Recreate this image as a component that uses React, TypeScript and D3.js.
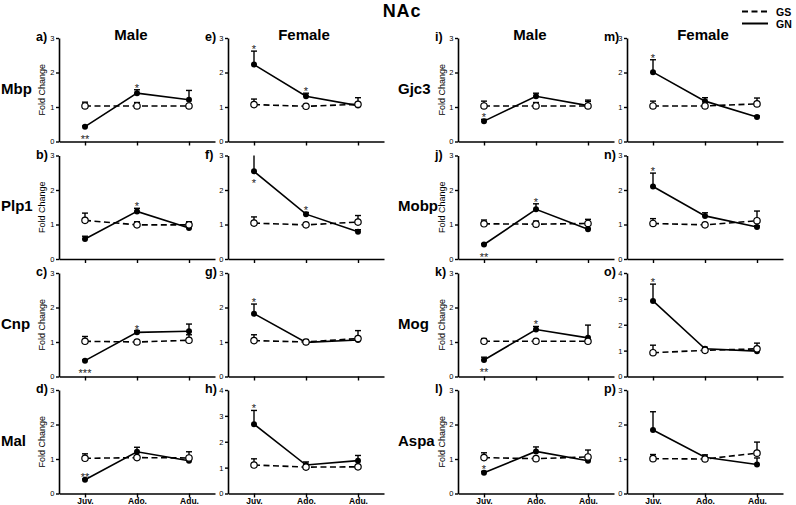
import React, { useEffect, useRef } from 'react';
import * as d3 from 'd3';

// categories
const ages = ['Juv.', 'Ado.', 'Adu.'];
const sexes = ['Male', 'Female'];
const genesLeft = ['Mbp', 'Plp1', 'Cnp', 'Mal'];
const genesRight = ['Gjc3', 'Mobp', 'Mog', 'Aspa'];
const panelLetters = ['a)', 'b)', 'c)', 'd)', 'e)', 'f)', 'g)', 'h)', 'i)', 'j)', 'k)', 'l)', 'm)', 'n)', 'o)', 'p)'];
const yMax = [3, 3, 3, 3, 3, 3, 3, 4, 3, 3, 3, 3, 3, 3, 4, 3];

// GS (dashed, open circles)
const gsMean = [
  [1.03, 1.03, 1.03], [1.12, 0.99, 0.99], [1.02, 1.0, 1.05], [1.02, 1.04, 1.03],
  [1.07, 1.02, 1.08], [1.04, 0.99, 1.07], [1.04, 1.0, 1.1], [1.1, 1.02, 1.03],
  [1.03, 1.03, 1.03], [1.02, 1.01, 1.03], [1.02, 1.02, 1.02], [1.04, 1.01, 1.06],
  [1.03, 1.03, 1.09], [1.03, 0.99, 1.11], [0.92, 1.01, 1.07], [1.01, 1.0, 1.17],
];
const gsErr = [
  [0.11, 0.1, 0.02], [0.21, 0.09, 0.09], [0.14, 0.02, 0.16], [0.13, 0.02, 0.18],
  [0.16, 0.02, 0.19], [0.18, 0.02, 0.19], [0.17, 0.07, 0.23], [0.24, 0.02, 0.02],
  [0.14, 0.1, 0.17], [0.11, 0.09, 0.12], [0.08, 0.02, 0.02], [0.14, 0.02, 0.2],
  [0.14, 0.03, 0.17], [0.14, 0.02, 0.28], [0.29, 0.02, 0.22], [0.12, 0.02, 0.32],
];

// GN (solid, filled circles)
const gnMean = [
  [0.43, 1.4, 1.21], [0.58, 1.38, 0.9], [0.46, 1.28, 1.31], [0.4, 1.21, 0.95],
  [2.23, 1.31, 1.04], [2.54, 1.3, 0.79], [1.82, 0.99, 1.06], [2.68, 1.1, 1.27],
  [0.59, 1.31, 1.04], [0.42, 1.44, 0.86], [0.48, 1.36, 1.12], [0.6, 1.22, 0.95],
  [2.01, 1.17, 0.71], [2.1, 1.25, 0.93], [2.92, 1.07, 0.98], [1.84, 1.05, 0.84],
];
const gnErr = [
  [0.02, 0.1, 0.27], [0.08, 0.09, 0.05], [0.02, 0.05, 0.21], [0.02, 0.13, 0.02],
  [0.39, 0.09, 0.05], [0.48, 0.05, 0.06], [0.28, 0.05, 0.05], [0.53, 0.12, 0.2],
  [0.05, 0.09, 0.12], [0.02, 0.16, 0.03], [0.08, 0.09, 0.37], [0.04, 0.13, 0.02],
  [0.36, 0.1, 0.03], [0.39, 0.09, 0.03], [0.65, 0.06, 0.03], [0.53, 0.07, 0.19],
];

// significance marks on GN points
const stars = [
  ['**', '*', ''], ['', '*', ''], ['***', '*', ''], ['**', '', ''],
  ['*', '*', ''], ['*', '*', ''], ['*', '', ''], ['*', '', ''],
  ['*', '', ''], ['**', '*', ''], ['**', '*', ''], ['*', '', ''],
  ['*', '', ''], ['*', '', ''], ['*', '', ''], ['', '', ''],
];
const starSide = [
  ['down', 'up', ''], ['', 'up', ''], ['down', 'up', ''], ['up', '', ''],
  ['up', 'up', ''], ['down', 'up', ''], ['up', '', ''], ['up', '', ''],
  ['up', '', ''], ['down', 'up', ''], ['down', 'up', ''], ['up', '', ''],
  ['up', '', ''], ['up', '', ''], ['up', '', ''], ['', '', ''],
];

const FONT = '"Liberation Sans", Arial, Helvetica, sans-serif';

export default function App() {
  const svgRef = useRef<SVGSVGElement>(null);

  useEffect(() => {
    if (!svgRef.current) return;
    const svg = d3.select(svgRef.current);
    svg.selectAll('*').remove();
    svg.attr('font-family', FONT);

    const colX = [59, 228, 458, 627];
    const rowTop = [38, 155.5, 273, 390];
    const pw = 156;
    const ph = 103.5;

    // title
    svg.append('text').attr('x', 402).attr('y', 17).attr('text-anchor', 'middle')
      .attr('font-size', 18).attr('font-weight', 'bold').attr('letter-spacing', 0.8).text('NAc');

    // legend
    const leg = svg.append('g');
    leg.append('line').attr('x1', 742).attr('x2', 768).attr('y1', 11.5).attr('y2', 11.5)
      .attr('stroke', '#000').attr('stroke-width', 2).attr('stroke-dasharray', '6,3.5');
    leg.append('line').attr('x1', 742).attr('x2', 768).attr('y1', 23.5).attr('y2', 23.5)
      .attr('stroke', '#000').attr('stroke-width', 2);
    leg.append('text').attr('x', 776).attr('y', 15.5).attr('font-size', 10.5).attr('font-weight', 'bold').text('GS');
    leg.append('text').attr('x', 776).attr('y', 27.5).attr('font-size', 10.5).attr('font-weight', 'bold').text('GN');

    // gene labels
    const genes = [genesLeft, genesRight];
    genes.forEach((list, half) => {
      list.forEach((g, r) => {
        svg.append('text').attr('x', half === 0 ? 1 : 398).attr('y', rowTop[r] + ph / 2 + 4)
          .attr('font-size', 15).attr('font-weight', 'bold').text(g);
      });
    });

    for (let p = 0; p < 16; p++) {
      const col = Math.floor(p / 4);
      const row = p % 4;
      const ox = colX[col];
      const top = rowTop[row];
      const g = svg.append('g').attr('transform', `translate(${ox},${top})`);

      const x = d3.scalePoint<string>().domain(ages).range([0, pw]).padding(0.5);
      const y = d3.scaleLinear().domain([0, yMax[p]]).range([ph, 0]);

      // axes
      const yAxis = g.append('g').call(d3.axisLeft(y).ticks(yMax[p]).tickSize(3).tickSizeOuter(0).tickFormat(d3.format('d')));
      const xAxis = g.append('g').attr('transform', `translate(0,${ph})`)
        .call(d3.axisBottom(x).tickSize(4).tickSizeOuter(0).tickFormat(row === 3 ? (d) => d : () => ''));
      [yAxis, xAxis].forEach((a) => {
        a.select('.domain').attr('stroke', '#000').attr('stroke-width', 1.6);
        a.selectAll('.tick line').attr('stroke', '#000').attr('stroke-width', 1.4);
      });
      yAxis.selectAll('.tick text').attr('font-size', 7.5).attr('font-family', FONT).attr('x', -4.5).attr('fill', '#000');
      xAxis.selectAll('.tick text').attr('font-size', 8.5).attr('font-weight', 'bold').attr('font-family', FONT)
        .attr('y', 4.5).attr('fill', '#000');

      // panel letter
      g.append('text').attr('x', -23).attr('y', 3).attr('font-size', 12.5).attr('font-weight', 'bold').text(panelLetters[p]);

      // sex title
      if (row === 0) {
        g.append('text').attr('x', col % 2 === 0 ? 72 : 76).attr('y', 2).attr('text-anchor', 'middle')
          .attr('font-size', 15).attr('font-weight', 'bold').text(sexes[col % 2]);
      }

      // y label
      if (col % 2 === 0) {
        g.append('text').attr('transform', `translate(${col === 0 ? -14 : -13},${ph / 2}) rotate(-90)`)
          .attr('text-anchor', 'middle').attr('font-size', 9).text('Fold Change');
      }

      const line = d3.line<number>().x((_, i) => x(ages[i])!).y((d) => y(d));

      // error bars (upper only)
      const errSeries = [
        { m: gsMean[p], e: gsErr[p] },
        { m: gnMean[p], e: gnErr[p] },
      ];
      errSeries.forEach((s) => {
        s.m.forEach((v, i) => {
          const cx = x(ages[i])!;
          const yt = y(Math.min(v + s.e[i], yMax[p]));
          g.append('line').attr('x1', cx).attr('x2', cx).attr('y1', y(v)).attr('y2', yt)
            .attr('stroke', '#000').attr('stroke-width', 1.4);
          if (v + s.e[i] <= yMax[p] - 0.05) {
            g.append('line').attr('x1', cx - 3).attr('x2', cx + 3).attr('y1', yt).attr('y2', yt)
              .attr('stroke', '#000').attr('stroke-width', 1.4);
          }
        });
      });

      g.append('path').attr('d', line(gsMean[p])!).attr('fill', 'none').attr('stroke', '#000')
        .attr('stroke-width', 1.6).attr('stroke-dasharray', '6,3.5');
      g.append('path').attr('d', line(gnMean[p])!).attr('fill', 'none').attr('stroke', '#000')
        .attr('stroke-width', 1.6);

      g.selectAll('.gn').data(gnMean[p]).enter().append('circle')
        .attr('cx', (_, i) => x(ages[i])!).attr('cy', (d) => y(d)).attr('r', 3).attr('fill', '#000');
      g.selectAll('.gs').data(gsMean[p]).enter().append('circle')
        .attr('cx', (_, i) => x(ages[i])!).attr('cy', (d) => y(d)).attr('r', 3.2)
        .attr('fill', '#fff').attr('stroke', '#000').attr('stroke-width', 1.2);

      // stars
      stars[p].forEach((s, i) => {
        if (!s) return;
        const v = gnMean[p][i];
        const yy = starSide[p][i] === 'down' ? y(v) + 16 : y(v + gnErr[p][i]) + 2;
        g.append('text').attr('x', x(ages[i])!).attr('y', yy).attr('text-anchor', 'middle')
          .attr('font-size', 11).attr('fill', '#222').text(s);
      });
    }
  }, []);

  return (
    <svg ref={svgRef} width={796} height={505}
      style={{ position: 'absolute', left: 0, top: 0, background: '#fff' }} />
  );
}
